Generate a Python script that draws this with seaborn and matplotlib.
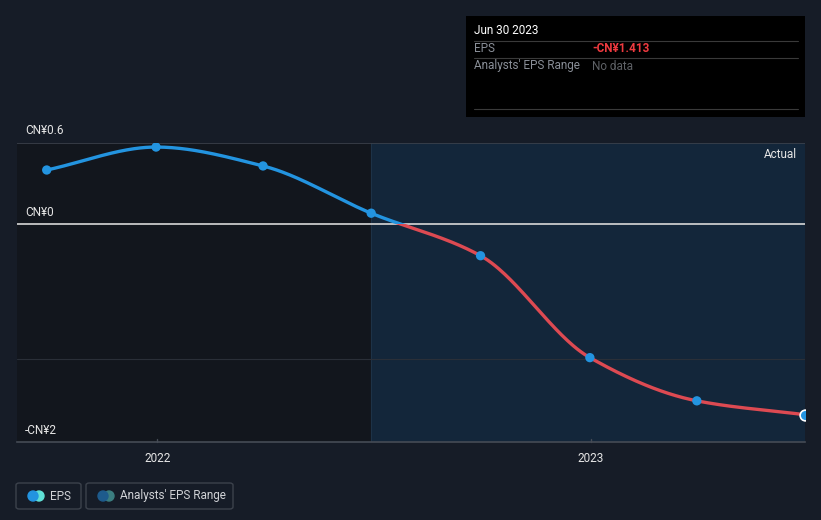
import numpy as np
import pandas as pd
import matplotlib
matplotlib.use("Agg")
import matplotlib.pyplot as plt
import matplotlib.dates as mdates
from matplotlib.patches import Rectangle, FancyBboxPatch, Circle
import seaborn as sns

# ---- data ----
dates = ["2021-09-30", "2021-12-31", "2022-03-31", "2022-06-30",
         "2022-09-30", "2022-12-31", "2023-03-31", "2023-06-30"]
eps = [0.40, 0.57, 0.43, 0.08, -0.235, -0.99, -1.31, -1.413]
y_tick_labels = ["CN¥0.6", "CN¥0", "-CN¥2"]
x_tick_labels = ["2022", "2023"]

BG = "#161c27"
BLUE = "#2394e0"
RED = "#dd4a52"
TXT = "#e6e6e6"
GREY = "#8a8f98"

sns.set_theme(style="dark")
plt.rcParams["font.family"] = ["Roboto", "DejaVu Sans"]

W, H = 821, 520
fig = plt.figure(figsize=(W / 100, H / 100), dpi=100, facecolor=BG)

def fx(px):
    return px / W

def fy(py):
    return 1 - py / H

ax = fig.add_axes([fx(17), fy(442), fx(805) - fx(17), fy(143) - fy(442)])
ax.set_facecolor("#12161d")

df = pd.DataFrame({"date": pd.to_datetime(dates), "eps": eps})
xn = mdates.date2num(df["date"])
yv = np.array(eps, dtype=float)

x0 = mdates.date2num(pd.Timestamp("2021-09-05"))
x1 = xn[-1]
ylo, yhi = -1.615, 0.6
ax.set_xlim(x0, x1)
ax.set_ylim(ylo, yhi)

# actual region shading (from Jun 2022)
ax.axvspan(xn[3], x1, color="#13263a", zorder=0, lw=0)
ax.axvline(xn[3], color="#1d3247", lw=0.8, zorder=1)

# grid lines
ax.axhline(0.6, color="#3b414b", lw=1.2, zorder=1)
ax.axhline(-1.0, color="#2a2f38", lw=0.8, zorder=1)
ax.axhline(0.0, color="#d8d8d8", lw=1.2, zorder=2)

# monotone cubic (Fritsch-Carlson) path through the data for the smooth line
def monotone_path(x, y, n=400):
    h = np.diff(x)
    d = np.diff(y) / h
    m = np.zeros_like(y)
    m[0], m[-1] = d[0], d[-1]
    for i in range(1, len(y) - 1):
        if d[i - 1] * d[i] <= 0:
            m[i] = 0
        else:
            w1 = 2 * h[i] + h[i - 1]
            w2 = h[i] + 2 * h[i - 1]
            m[i] = (w1 + w2) / (w1 / d[i - 1] + w2 / d[i])
    xs = np.linspace(x[0], x[-1], n)
    idx = np.clip(np.searchsorted(x, xs) - 1, 0, len(x) - 2)
    t = (xs - x[idx]) / h[idx]
    h00 = 2 * t**3 - 3 * t**2 + 1
    h10 = t**3 - 2 * t**2 + t
    h01 = -2 * t**3 + 3 * t**2
    h11 = t**3 - t**2
    ys = h00 * y[idx] + h10 * h[idx] * m[idx] + h01 * y[idx + 1] + h11 * h[idx] * m[idx + 1]
    return xs, ys

xs, ys = monotone_path(xn, yv)
curve = pd.DataFrame({"x": xs, "y": ys})
for col, clip_lo, clip_hi in [(BLUE, 0, yhi), (RED, ylo, 0)]:
    n_before = len(ax.lines)
    sns.lineplot(data=curve, x="x", y="y", ax=ax, color=col, lw=2.4, zorder=3,
                 sort=False, estimator=None)
    ln = ax.lines[-1]
    rect = Rectangle((x0, clip_lo), x1 - x0, clip_hi - clip_lo, transform=ax.transData)
    ln.set_clip_path(rect)

pts = pd.DataFrame({"x": xn, "y": yv})
sns.scatterplot(data=pts.iloc[:-1], x="x", y="y", ax=ax, color=BLUE, s=45,
                edgecolor="none", zorder=4)
sns.scatterplot(data=pts.iloc[-1:], x="x", y="y", ax=ax, color=BLUE, s=60,
                edgecolor="white", linewidth=1.2, zorder=5)

ax.set_xlabel("")
ax.set_ylabel("")
ax.set_xticks([])
ax.set_yticks([])
for s in ["top", "right", "left"]:
    ax.spines[s].set_visible(False)
ax.spines["bottom"].set_color("#454b55")
ax.spines["bottom"].set_linewidth(1.2)
ax.grid(False)

# x labels
for lbl in x_tick_labels:
    xd = mdates.date2num(pd.Timestamp(f"{lbl}-01-01"))
    ax.plot([xd, xd], [ylo, ylo + 0.02], color="#454b55", lw=1, clip_on=False, zorder=2)
    ax.annotate(lbl, (xd, ylo), xytext=(0, -12), textcoords="offset points",
                ha="center", va="center", color=TXT, fontsize=8.5,
                annotation_clip=False)

# y labels
for lbl, py in zip(y_tick_labels, [130, 212, 430]):
    fig.text(fx(25), fy(py), lbl, color=TXT, fontsize=8.5, ha="left", va="center")

fig.text(fx(797), fy(154), "Actual", color=TXT, fontsize=8.5, ha="right", va="center")

# tooltip box
fig.patches.append(Rectangle((fx(466), fy(117)), fx(805) - fx(466), fy(16) - fy(117),
                             transform=fig.transFigure, facecolor="#000000",
                             edgecolor="none", zorder=5))
for py in [41, 58, 109]:
    fig.add_artist(plt.Line2D([fx(474), fx(798)], [fy(py), fy(py)],
                              transform=fig.transFigure, color="#3a3a3a", lw=0.8, zorder=6))
fig.text(fx(474), fy(31), "Jun 30 2023", color="#ffffff", fontsize=8.5,
         ha="left", va="center", zorder=7)
fig.text(fx(474), fy(49), "EPS", color=GREY, fontsize=8.5, ha="left", va="center", zorder=7)
fig.text(fx(592), fy(49), "-CN¥1.413", color="#ee3a3f", fontsize=8.5, fontweight="bold",
         ha="left", va="center", zorder=7)
fig.text(fx(474), fy(66), "Analysts' EPS Range", color=GREY, fontsize=8.5,
         ha="left", va="center", zorder=7)
fig.text(fx(592), fy(66), "No data", color="#5e6166", fontsize=8.5,
         ha="left", va="center", zorder=7)

# legend
def legend_box(x_a, x_b, c1, c2, label, tx):
    box = FancyBboxPatch((fx(x_a), fy(509)), fx(x_b) - fx(x_a), fy(483) - fy(509),
                         boxstyle="round,pad=0,rounding_size=0.004",
                         transform=fig.transFigure, facecolor="none",
                         edgecolor="#3c424c", lw=1.0)
    fig.patches.append(box)
    r = 5 / H
    for cx, c in [(x_a + 18, c1), (x_a + 23, c2)][::-1]:
        pass
    e1 = matplotlib.patches.Ellipse((fx(x_a + 17), fy(496)), 10 / W, 10 / H,
                                    transform=fig.transFigure, color=c1, zorder=6)
    e2 = matplotlib.patches.Ellipse((fx(x_a + 23), fy(496)), 10 / W, 10 / H,
                                    transform=fig.transFigure, color=c2, zorder=5)
    fig.patches.append(e2)
    fig.patches.append(e1)
    fig.text(fx(tx), fy(496), label, color="#d0d2d6", fontsize=8.5, ha="left", va="center")

legend_box(16, 81, "#2394e0", "#5fe0d6", "EPS", 50)
legend_box(86, 233, "#1e5b8c", "#3b7e80", "Analysts' EPS Range", 120)

fig.savefig("out.png", dpi=100, facecolor=BG)
